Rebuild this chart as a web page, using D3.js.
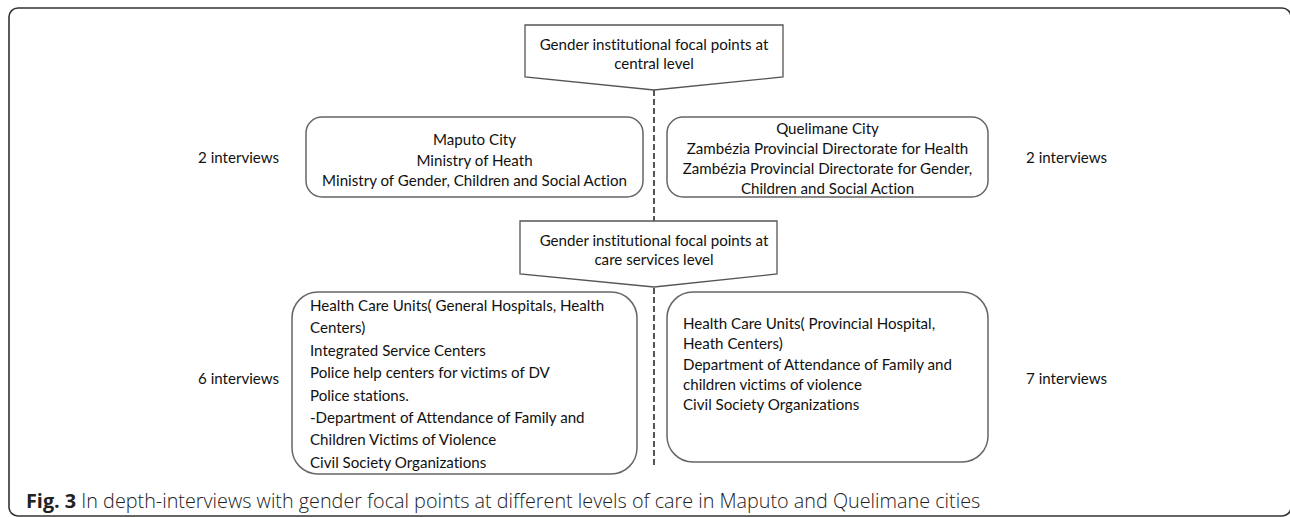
<!DOCTYPE html>
<html>
<head>
<meta charset="utf-8">
<script src="https://cdn.jsdelivr.net/npm/d3@7"></script>
<style>
body{margin:0;background:#fff}
svg{display:block}
text{font-variant-ligatures:none}
</style>
</head>
<body>
<div id="chart"></div>
<script>
var levelTitles = [
	['Gender institutional focal points at','central level'],
	['Gender institutional focal points at','care services level']
]
var centralLeft = ['Maputo City','Ministry of Heath','Ministry of Gender, Children and Social Action']
var centralRight = ['Quelimane City','Zambézia Provincial Directorate for Health','Zambézia Provincial Directorate for Gender,','Children and Social Action']
var careLeft = ['Health Care Units( General Hospitals, Health','Centers)','Integrated Service Centers','Police help centers for victims of DV','Police stations.','-Department of Attendance of Family and','Children Victims of Violence','Civil Society Organizations']
var careRight = ['Health Care Units( Provincial Hospital,','Heath Centers)','Department of Attendance of Family and','children victims of violence','Civil Society Organizations']
var interviews = [[2,2],[6,7]]
var caption = ['Fig. 3',' In depth-interviews with gender focal points at different levels of care in Maputo and Quelimane cities']

var W = 1290, H = 517
var svg = d3.select('#chart').append('svg')
	.attr('width',W).attr('height',H)
var font = 'Lato, "Open Sans", sans-serif'

// outer frame (right and bottom edges sit on the page border)
svg.append('rect')
	.attr('x',9).attr('y',8).attr('width',1282).attr('height',508)
	.attr('rx',9)
	.style('fill','none').style('stroke','#333').style('stroke-width',1.6)

// size so the widest centred line is about 305px wide
var probe = svg.append('text').style('font-family',font).style('font-size','100px').text(centralLeft[2])
var fs = 100*305/probe.node().getComputedTextLength()
probe.remove()

var cx = 654

// dashed spine
svg.append('line').attr('x1',cx).attr('x2',cx).attr('y1',90).attr('y2',466)
	.style('stroke','#555').style('stroke-width',2).style('stroke-dasharray','6,3')

// pentagon level headers
var pent = [{x0:525,x1:783,y0:25,y1:77,tip:90},{x0:520,x1:777,y0:221,y1:274,tip:287}]
levelTitles.forEach((t,i)=>{
	var p = pent[i]
	svg.append('path')
		.attr('d',d3.line()([[p.x0,p.y0],[p.x1,p.y0],[p.x1,p.y1],[cx,p.tip],[p.x0,p.y1]])+'Z')
		.style('fill','#fff').style('stroke','#555').style('stroke-width',1.3)
	var ty = d3.scaleLinear().domain([0,1]).range([p.y0+19,p.y0+38])
	t.forEach((s,j)=>{
		svg.append('text').attr('x',cx).attr('y',ty(j))
			.attr('text-anchor','middle').attr('dominant-baseline','central')
			.style('font-family',font).style('font-size',fs+'px').style('fill','#111')
			.text(s)
	})
})

function box(g,lines){
	svg.append('rect').attr('x',g.x0).attr('y',g.y0)
		.attr('width',g.x1-g.x0).attr('height',g.y1-g.y0).attr('rx',g.rx)
		.style('fill','#fff').style('stroke','#666').style('stroke-width',1.5)
	var ly = d3.scaleLinear().domain([0,1]).range([g.ty,g.ty+g.step])
	lines.forEach((s,j)=>{
		svg.append('text')
			.attr('x',g.align==='middle'?(g.x0+g.x1)/2:g.tx)
			.attr('y',ly(j))
			.attr('text-anchor',g.align).attr('dominant-baseline','central')
			.style('font-family',font).style('font-size',fs+'px').style('fill','#111')
			.text(s)
	})
}
box({x0:306,x1:643,y0:117,y1:197,rx:16,align:'middle',ty:139,step:20.5},centralLeft)
box({x0:667,x1:988,y0:117,y1:197,rx:16,align:'middle',ty:128,step:20},centralRight)
box({x0:292,x1:637,y0:292,y1:474,rx:26,align:'start',tx:310,ty:305,step:22.4},careLeft)
box({x0:667,x1:988,y0:292,y1:462,rx:26,align:'start',tx:683,ty:323,step:20.3},careRight)

// interview counts
var labelY = [157,378]
var labelX = [198,1026]
interviews.forEach((r,ri)=>{
	r.forEach((n,ci)=>{
		svg.append('text').attr('x',labelX[ci]).attr('y',labelY[ri])
			.attr('dominant-baseline','central')
			.style('font-family',font).style('font-size',fs+'px').style('fill','#111')
			.text(n+' interviews')
	})
})

// caption: size it so the text before "Maputo" spans ~689px
var capFont = '"Open Sans", sans-serif'
var pre = caption[1].slice(0,caption[1].indexOf('Maputo'))
var cp = svg.append('text').style('font-family',capFont).style('font-size','100px')
cp.append('tspan').style('font-weight','bold').text(caption[0])
cp.append('tspan').style('font-weight','300').text(pre)
var cfs = 100*689/cp.node().getComputedTextLength()
cp.remove()
var cap = svg.append('text').attr('x',26).attr('y',500).attr('dominant-baseline','central')
	.style('font-family',capFont).style('font-size',cfs+'px').style('fill','#222')
cap.append('tspan').style('font-weight','bold').text(caption[0])
cap.append('tspan').style('font-weight','300').text(caption[1])
</script>
</body>
</html>
